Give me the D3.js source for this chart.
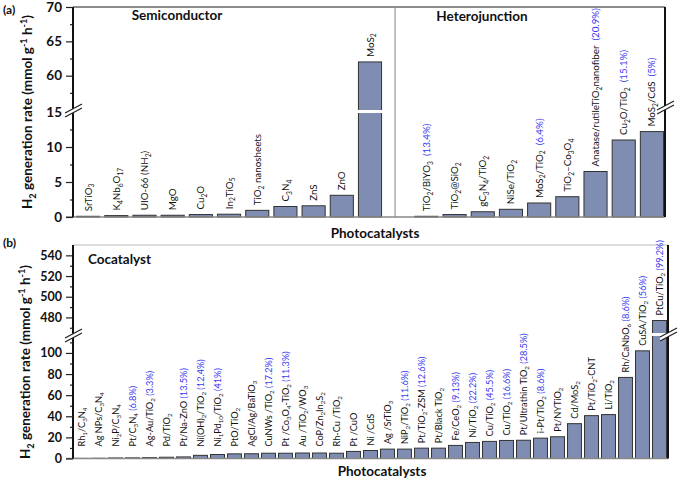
<!DOCTYPE html>
<html><head><meta charset="utf-8">
<script src="https://cdn.jsdelivr.net/npm/d3@7"></script>
<style>body{margin:0;background:#fff} svg{font-family:Lato,'Open Sans',sans-serif} text{white-space:pre}</style>
</head><body><svg id="c" width="680" height="479"></svg>
<script>
// ---------- data ----------
const semiLabels = ["SrTiO_{3}","K_{4}Nb_{6}O_{17}","UIO-66 (NH_{2})","MgO","Cu_{2}O","In_{2}TiO_{5}","TiO_{2} nanosheets","C_{3}N_{4}","ZnS","ZnO","MoS_{2}"];
const semiValues = [0.1,0.2,0.25,0.25,0.35,0.4,0.95,1.5,1.6,3.1,62];
const heteroLabels = ["TiO_{2}/BiYO_{3}","TiO_{2}@SiO_{2}","gC_{3}N_{4}/TiO_{2}","NiSe/TiO_{2}","MoS_{2}/TiO_{2}","TiO_{2}\u2013Co_{3}O_{4}","Anatase/rutileTiO_{2}nanofiber","Cu_{2}O/TiO_{2}","MoS_{2}/CdS"];
const heteroPct = ["(13.4%)","","","","(6.4%)","","(20.9%)","(15.1%)","(5%)"];
const heteroValues = [0.1,0.35,0.75,1.1,2.0,2.9,6.5,11.0,12.2];
const cocatLabels = ["Rh_{1}/C_{3}N_{4}","Ag NPs/C_{3}N_{4}","Ni_{2}P/C_{3}N_{4}","Pt/C_{3}N_{4}","Ag-Au/TiO_{2}","Pd/TiO_{2}","Pt/Na-ZnO","Ni(OH)_{2}/TiO_{2}","Ni_{1}Pd_{10}/TiO_{2}","PtO/TiO_{2}","AgCl/Ag/BaTiO_{3}","CuNWs /TiO_{2}","Pt /Co_{3}O_{4}-TiO_{2}","Au /TiO_{2}/WO_{3}","CoP/Zn_{2}In_{2}S_{2}","Rh-Cu /TiO_{2}","Pt /CuO","Ni /CdS","Ag /SrTiO_{3}","NiP_{2}/TiO_{2}","Pt/TiO_{2}-ZSM","Pt/Black TiO_{2}","Fe/CeO_{2}","Ni/TiO_{2}","Cu/TiO_{2}","Cu/TiO_{2}","Pt/Ultrathin TiO_{2}","i-Pt/TiO_{2}","Pt/NYTiO_{2}","Cd/MoS_{2}","Pt/TiO_{2}-CNT","Li/TiO_{2}","Rh/CaNbO_{6}","CuSA/TiO_{2}","PtCu/TiO_{2}"];
const cocatPct = ["","","","(6.8%)","(3.3%)","","(13.5%)","(12.4%)","(41%)","","","(17.2%)","(11.3%)","","","","","","","(11.6%)","(12.6%)","","(9.13%)","(22.2%)","(45.5%)","(16.6%)","(28.5%)","(8.6%)","","","","","(8.6%)","(56%)","(99.2%)"];
const cocatValues = [0.1,0.2,0.5,0.6,0.8,1.2,1.5,3.0,3.8,4.4,4.5,5.0,5.0,5.2,5.2,5.0,6.7,7.6,8.9,8.9,9.8,9.8,12.4,15.2,16.2,17.1,17.3,19.3,20.6,33.0,40.6,41.6,76.8,102,477];
const ticksALow = [0,5,10,15], ticksAUp = [60,65,70];
const minorALow = [2.5,7.5,12.5], minorAUp = [57.5,62.5,67.5];
const ticksBLow = [0,20,40,60,80,100], ticksBUp = [480,500,520,540];
const minorBLow = [10,30,50,70,90,110], minorBUp = [470,490,510,530];

// ---------- drawing ----------
const svg = d3.select("#c");
const BAR = "#7f8db3", BARSTROKE = "#333", BLUE = "#3a3af0";

function rich(t, str, fs) {
  const parts = str.split(/(_\{[^}]*\}|\^\{[^}]*\})/).filter(p => p);
  let shift = 0;
  parts.forEach(p => {
    let target = 0, txt = p, small = false;
    if (p.startsWith("_{")) { target = fs*0.28; txt = p.slice(2,-1); small = true; }
    else if (p.startsWith("^{")) { target = -fs*0.4; txt = p.slice(2,-1); small = true; }
    const ts = t.append("tspan").attr("dy", target - shift).text(txt);
    if (small) ts.attr("font-size", fs*0.68);
    shift = target;
  });
  return shift;
}

function brokenScale(lowDom, lowRange, upDom, upRange) {
  const lo = d3.scaleLinear().domain(lowDom).range(lowRange);
  const up = d3.scaleLinear().domain(upDom).range(upRange);
  const f = v => v <= lowDom[1] ? lo(v) : up(v);
  f.lo = lo; f.up = up; f.brk = lowRange[1];
  return f;
}

function breakMark(g, x, y) {
  g.append("path").attr("d", `M${x-8},${y+6} L${x+9},${y-3} L${x+9},${y-7} L${x-8},${y+2} Z`).attr("fill", "#fff");
  g.append("line").attr("x1", x-8).attr("y1", y+6).attr("x2", x+9).attr("y2", y-3).attr("stroke", "#222").attr("stroke-width", 1.2);
  g.append("line").attr("x1", x-8).attr("y1", y+2).attr("x2", x+9).attr("y2", y-7).attr("stroke", "#222").attr("stroke-width", 1.2);
}

function yAxis(g, y, x0, majLo, majUp, minLo, minUp, fs) {
  [[y.lo, majLo, 7, true], [y.up, majUp, 7, true], [y.lo, minLo, 3, false], [y.up, minUp, 3, false]].forEach(([sc, tv, size, lab]) => {
    const a = d3.axisLeft(sc).tickValues(tv).tickSize(size).tickPadding(4);
    if (!lab) a.tickFormat("");
    const ag = g.append("g").attr("transform", `translate(${x0},0)`).call(a);
    ag.select(".domain").remove();
    ag.selectAll("line").attr("stroke", "#222").attr("stroke-width", 1.2);
    ag.selectAll("text").attr("font-family", "Lato").attr("font-weight", "bold").attr("font-size", fs).attr("fill", "#111");
  });
}

function yTitle(g, x, yc, fs) {
  const t = g.append("text").attr("transform", `translate(${x},${yc}) rotate(-90)`).attr("text-anchor", "middle")
    .attr("font-weight", "bold").attr("font-size", fs).attr("fill", "#111");
  rich(t, "H_{2} generation rate (mmol g^{-1} h^{-1})", fs);
}

function barLabel(g, cx, yb, label, pct, fs, gapSpaces) {
  const t = g.append("text").attr("transform", `translate(${cx + fs*0.36},${yb}) rotate(-90)`)
    .attr("font-size", fs).attr("fill", "#111");
  const s = rich(t, label, fs);
  if (pct) t.append("tspan").attr("dy", -s).attr("fill", BLUE).text(gapSpaces + pct);
}

function drawBars(g, data, x, y, zero, minGap, fs, gapSpaces) {
  data.forEach(d => {
    const top = y(d.v);
    g.append("rect").attr("x", x(d.i)).attr("width", x.bandwidth()).attr("y", top).attr("height", zero - top)
      .attr("fill", BAR).attr("stroke", BARSTROKE).attr("stroke-width", 1);
    if (d.v > y.lo.domain()[1]) {
      g.append("rect").attr("x", x(d.i) - 1).attr("width", x.bandwidth() + 2).attr("y", y.brk - 2).attr("height", 3).attr("fill", "#fff");
    }
    const yb = Math.min(top - 5, zero - minGap);
    barLabel(g, x(d.i) + x.bandwidth()/2, yb, d.label, d.pct, fs, gapSpaces);
  });
}

// ===== Panel (a) =====
const gA = svg.append("g");
const yA = brokenScale([0, 15], [217, 112], [55, 70], [110, 7]);
const xA = d3.scaleBand().domain(d3.range(21)).range([74, 666]).paddingInner(0.18).paddingOuter(0.09);
const dataA = semiLabels.map((l, i) => ({i, label: l, pct: "", v: semiValues[i]}))
  .concat(heteroLabels.map((l, j) => ({i: 12 + j, label: l, pct: heteroPct[j], v: heteroValues[j]})));
gA.append("line").attr("x1", 73).attr("x2", 665).attr("y1", 7).attr("y2", 7).attr("stroke", "#666").attr("stroke-width", 1.5);
const divX = xA(11) + xA.step()*0.3;
gA.append("line").attr("x1", divX).attr("x2", divX).attr("y1", 7).attr("y2", 217).attr("stroke", "#999").attr("stroke-width", 1.2);
drawBars(gA, dataA, xA, yA, 217, 4, 9.8, "  ");
gA.append("line").attr("x1", 66).attr("x2", 665).attr("y1", 217).attr("y2", 217).attr("stroke", "#888").attr("stroke-width", 1.5);
gA.append("line").attr("x1", 73).attr("x2", 73).attr("y1", 7).attr("y2", 217).attr("stroke", "#111").attr("stroke-width", 2);
gA.append("line").attr("x1", 665).attr("x2", 665).attr("y1", 7).attr("y2", 217).attr("stroke", "#111").attr("stroke-width", 2);
yAxis(gA, yA, 73, ticksALow, ticksAUp, minorALow, minorAUp, 13.5);
breakMark(gA, 73, 111);
breakMark(gA, 665, 108);
gA.append("text").attr("x", 3).attr("y", 14).attr("font-weight", "bold").attr("font-size", 12).attr("fill", "#111").text("(a)");
gA.append("text").attr("x", 177).attr("y", 20).attr("text-anchor", "middle").attr("font-weight", "bold").attr("font-size", 13.5).attr("fill", "#111").text("Semiconductor");
gA.append("text").attr("x", 482).attr("y", 21).attr("text-anchor", "middle").attr("font-weight", "bold").attr("font-size", 13.5).attr("fill", "#111").text("Heterojunction");
gA.append("text").attr("x", 375).attr("y", 238).attr("text-anchor", "middle").attr("font-weight", "bold").attr("font-size", 13.5).attr("fill", "#111").text("Photocatalysts");
yTitle(gA, 32, 112, 13.5);

// ===== Panel (b) =====
const gB = svg.append("g");
const yB = brokenScale([0, 117], [458.5, 335], [463, 550], [335, 245]);
const xB = d3.scaleBand().domain(d3.range(cocatLabels.length)).range([73, 668]).paddingInner(0.18).paddingOuter(0.09);
const dataB = cocatLabels.map((l, i) => ({i, label: l, pct: cocatPct[i], v: cocatValues[i]}));
gB.append("line").attr("x1", 73).attr("x2", 668).attr("y1", 245).attr("y2", 245).attr("stroke", "#bbb").attr("stroke-width", 1);
drawBars(gB, dataB, xB, yB, 458.5, 12, 9.2, " ");
gB.append("line").attr("x1", 66).attr("x2", 668).attr("y1", 458.5).attr("y2", 458.5).attr("stroke", "#888").attr("stroke-width", 1.5);
gB.append("line").attr("x1", 73).attr("x2", 73).attr("y1", 245).attr("y2", 458.5).attr("stroke", "#111").attr("stroke-width", 2);
gB.append("line").attr("x1", 668).attr("x2", 668).attr("y1", 245).attr("y2", 458.5).attr("stroke", "#111").attr("stroke-width", 2);
yAxis(gB, yB, 73, ticksBLow, ticksBUp, minorBLow, minorBUp, 12.5);
breakMark(gB, 73, 336);
breakMark(gB, 668, 335);
gB.append("text").attr("x", 3).attr("y", 247).attr("font-weight", "bold").attr("font-size", 12).attr("fill", "#111").text("(b)");
gB.append("text").attr("x", 88).attr("y", 264).attr("font-weight", "bold").attr("font-size", 13.5).attr("fill", "#111").text("Cocatalyst");
gB.append("text").attr("x", 382).attr("y", 476).attr("text-anchor", "middle").attr("font-weight", "bold").attr("font-size", 13.5).attr("fill", "#111").text("Photocatalysts");
yTitle(gB, 30, 362, 13.5);
</script></body></html>
